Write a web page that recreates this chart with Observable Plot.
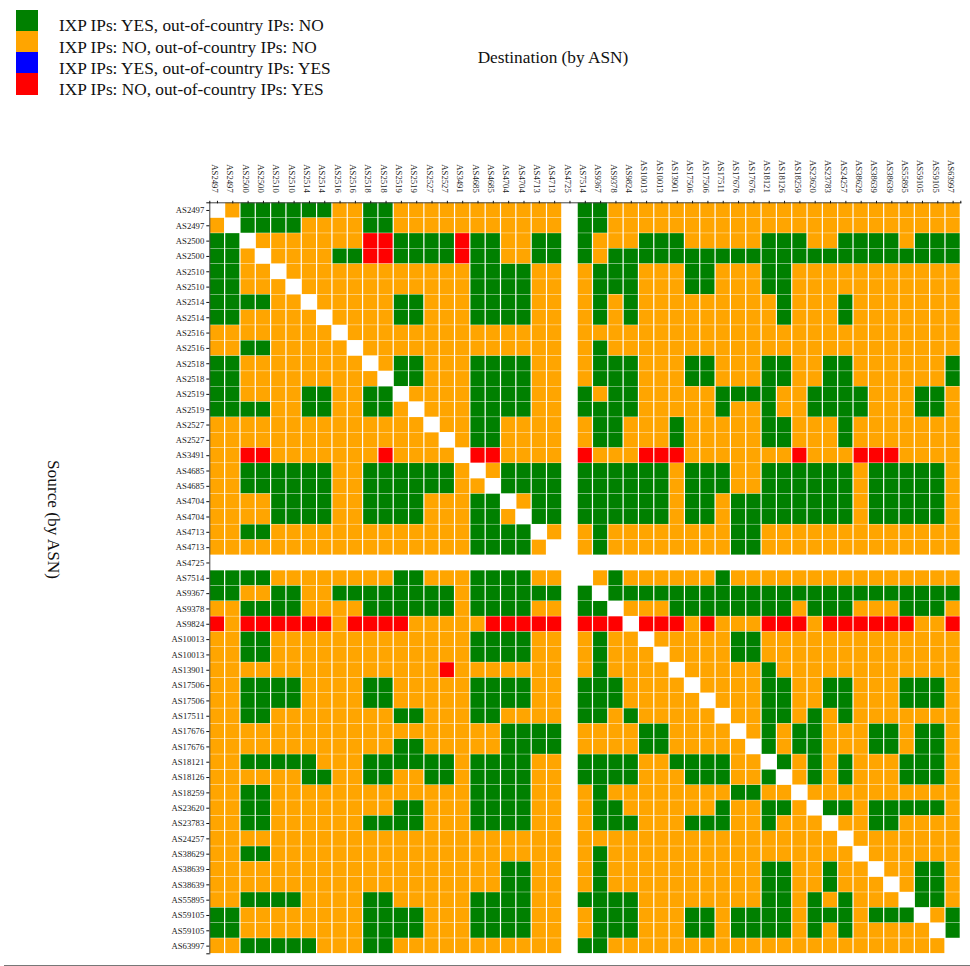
<!DOCTYPE html>
<html>
<head>
<meta charset="utf-8">
<script src="https://cdn.jsdelivr.net/npm/d3@7"></script>
<script src="https://cdn.jsdelivr.net/npm/@observablehq/plot@0.6"></script>
<style>
html,body{margin:0;padding:0;background:#fff;}
body{width:970px;height:966px;position:relative;overflow:hidden;font-family:"Liberation Serif",serif;color:#111;}
#legend{position:absolute;left:16px;top:9.5px;}
.row{position:relative;height:21.33px;width:400px;}
.sw{position:absolute;left:0;top:0;width:21.5px;height:21.5px;}
.lab{position:absolute;left:43px;top:5.7px;font-size:17.3px;line-height:21px;white-space:nowrap;}
#dest{position:absolute;left:453px;width:200px;text-align:center;top:47px;font-size:17.3px;line-height:21px;}
#src{position:absolute;left:43px;top:460px;font-size:17.3px;line-height:21px;writing-mode:vertical-rl;white-space:nowrap;}
#plot{position:absolute;left:0;top:130px;}
#rule{position:absolute;left:4px;top:965px;width:966px;height:1px;background:#777;}
</style>
</head>
<body>
<div id="legend"></div>
<div id="dest">Destination (by ASN)</div>
<div id="src">Source (by ASN)</div>
<div id="plot"></div>
<div id="rule"></div>
<script>
const asns = ["AS2497","AS2497","AS2500","AS2500","AS2510","AS2510","AS2514","AS2514","AS2516","AS2516","AS2518","AS2518","AS2519","AS2519","AS2527","AS2527","AS3491","AS4685","AS4685","AS4704","AS4704","AS4713","AS4713","AS4725","AS7514","AS9367","AS9378","AS9824","AS10013","AS10013","AS13901","AS17506","AS17506","AS17511","AS17676","AS17676","AS18121","AS18126","AS18259","AS23620","AS23783","AS24257","AS38629","AS38639","AS38639","AS55895","AS59105","AS59105","AS63997"];
const legendLabels = ["IXP IPs: YES, out-of-country IPs: NO","IXP IPs: NO, out-of-country IPs: NO","IXP IPs: YES, out-of-country IPs: YES","IXP IPs: NO, out-of-country IPs: YES"];
const legendColors = ["green","orange","blue","red"];
const codes = ["G","O","B","R"];
// One string per source row; G/O/B/R as in the legend, "." = no cell.
const matrix = [
".OGGGGGGOOGGOOOOOOOOOOO.GGOOOOOOOOOOOOOOOOOOOOOOO",
"O.GGGGOOOOGGOOOOOOOOOOO.GGOOOOOOOOOOOOOOOOOOOOOOO",
"GG.OOOOOOORRGGGGRGGOOGG.GOOOGGGOOOOOGGGOOGGGGOGGG",
"GGO.OOOOGGRRGGGGRGGOOGG.GOGGGGGGGGGGGGGGGGGGGGGGG",
"GGOO.OOOOOOOOOOOOGGGGOO.OGGGOOOGGOOOGGOOOOOOOOOOO",
"GGOOO.OOOOOOOOOOOGGGGOO.OGGGOOOGGOOOGGOOOOOOOOOOO",
"GGGGOO.OOOOOGGOOOGGGGOO.OGOGOOOOOOOOOGOOOGOOOOOOO",
"GGOOOOO.OOOOGGOOOGGGGOO.OGOGOOOOOOOOOGOOOGOOOOOOO",
"OOOOOOOO.OOOOOOOOOOOOOO.OOOOOOOOOOOOOOOOOOOOOOOOO",
"OOGGOOOOO.OOOOOOOOOOOOO.OGOOOOOOOOOOOOOOOOOOOOOOO",
"GGOOOOOOOO.OGGOOOGGGGOO.OGGGOOOGGOOOGGOOGGOOOOOOG",
"GGOOOOOOOOO.GGOOOGGGGOO.OGGGOOOGGOOOGGOOGGOOOOOOG",
"GGOOOOGGOOGG.OOOOGGGGOO.GOGGOOOOOGGGGOOGGGGOOOGGO",
"GGGGOOGGOOGGO.OOOGGGGOO.GGGGOOOOOGOOGOOGGGGOOOGGO",
"OOOOOOOOOOOOOO.OOGGOOOO.OGGOOOGOOOOOGGOOOGOOOOOOO",
"OOOOOOOOOOOOOOO.OGGOOOO.OGGOOOGOOOOOGGOOOGOOOOOOO",
"OORROOOOOOOROOOO.RROOOO.ROOORRROOOOOOOROOORRROOOO",
"OOGGGGGGOOGGGGGGO.OGGGG.GGGGGGOGGGOOGGGGGGOGGGGGO",
"OOGGGGGGOOGGGGGGOO.GGGG.GGGGGGOGGGOOGGGGGGOGGGGGO",
"OOOOGGGGOOGGGGOOOGG.OGG.GGGGGGOGGOGGGGGGGGOGGGGGO",
"OOOOGGGGOOGGGGOOOGGO.GG.GGGGGGOGGOGGGGGGGGOGGGGGO",
"OOGGOOOOOOOOOOOOOGGGG.O.OGOOOOOOOOGGOOOOOOOOOOOOO",
"OOOOOOOOOOOOOOOOOGGGGO..OGOOOOOOOOGGOOOOOOOOOOOOO",
".................................................",
"GGGGOOOOOOOOGGOOOGGGGOO..OGOOOOOOGOOOOOOOOOOOOOOO",
"GGOOGGOOGGGGGGGGOGGGGGG.G.GGGGGGGGGGGGGGGGGGGGGGG",
"OOGGGGOOOOGGGGGGOGGGGOO.GG.OOOGGGGGGGGOGGGOOOGGGO",
"RORRRRRRORRRROOOOORRRRR.RRR.RRROROOORRRORRRRRROOR",
"OOGGOOOOOOOOOOOOOGGGGOO.OGOO.OOOOOGGOOOOOOOOOOOOO",
"OOGGOOOOOOOOOOOOOGGGGOO.OGOOO.OOOOGGOOOOOOOOOOOOO",
"OOOOOOOOOOOOOOOROOOOOOO.OGOOOO.OOOOOGOOOOOOOOOOOO",
"OOGGGGOOOOGGOOOOOGGGGOO.GGGOOOO.OOOOGGOOGGOOOGGGO",
"OOGGGGOOOOGGOOOOOGGGGOO.GGGOOOOO.OOOGGOOGGOOOGGGO",
"OOGGOOOOOOOOGGOOOGGOOOO.GGOGOOOOO.OOGGOGOGOOOOOOO",
"OOOOOOOOOOOOOOOOOOOGGGG.OOOOGGOOOO.OGOGGOOOGGOGGO",
"OOOOOOOOOOOOGGOOOOOGGGG.OOOOGGOOOOO.GOGGOOOGGOGGO",
"OOGGGGGOOOGGGGGGOGGGGOO.GGGGOOGGGGOO.GOGOGOOOGGGO",
"OOOOOOGGOOGGOOGGOGGGGOO.GGGGOOOGGGOOG.OGOGOOOGGGO",
"OOGGOOOOOOOOOOOOOGGGGOO.OGOOOOOOOOGGOO.OOOOOOOOOO",
"OOGGOOOOOOOOGGOOOGGGGOO.OGGOOOOOOGOOGGO.GGOGGGGGO",
"OOGGOOOOOOGGGGOOOGGGGOO.OGGGOOOGGGOOGOOO.OOGGOOOO",
"OOOOOOOOOOOOOOOOOOOOOOO.OOOOOOOOOOOOOOOOO.OOOOOOO",
"OOGGOOOOOOOOOOOOOOOOOOO.OGOOOOOOOOOOOOOOOO.OOOOOO",
"OOOOOOOOOOOOOOOOOOOGGOO.OGOOOOOOOOOOGGOOGOO.OOGGO",
"OOOOOOOOOOOOOOOOOOOGGOO.OGOOOOOOOOOOGGOOGOOO.OGGO",
"OOGGGGOOOOGGOOOOOGGGGOO.GGGGOOOOOOOOGGOGOGOOO.GGO",
"GGOOOOOOOOGGGGOOOGGGGOO.OGGGOOOGGOGGGGOGGGOGGG.OG",
"GGOOOOOOOOGGGGOOOGGGGOO.OGGGOOOGGOGGGGOGOGOOOOO.G",
"OOGGGGGOOOGGOOOOOOOOOOO.GGOOOOOOOOOOOOOOOOOOOOOO."
];

const legend = document.getElementById("legend");
legendLabels.forEach((t,i)=>{
  const r=document.createElement("div");r.className="row";
  r.innerHTML=`<div class="sw" style="background:${legendColors[i]}"></div><div class="lab">${t}</div>`;
  legend.appendChild(r);
});

const cells=[];
matrix.forEach((s,r)=>{
  if(s.length!==49) throw new Error("row "+r+" len "+s.length);
  [...s].forEach((c,k)=>{ if(c!==".") cells.push({src:r,dst:k,code:c}); });
});

const idx=d3.range(asns.length);
const half=751/49/2;
const chart=Plot.plot({
  width:970,height:836,
  marginLeft:209.3,marginRight:9.7,marginTop:72.3,marginBottom:12.7,
  style:{fontFamily:"Liberation Serif, serif",fontSize:"8.7px",color:"#222",background:"transparent"},
  x:{type:"band",domain:idx,padding:0,round:false,axis:null},
  y:{type:"band",domain:idx,padding:0,round:false,axis:null},
  color:{type:"ordinal",domain:codes,range:legendColors},
  marks:[
    Plot.cell(cells,{x:"dst",y:"src",fill:"code",insetLeft:0.6,insetRight:0.6,insetTop:0.2,insetBottom:0.2}),
    Plot.frame({anchor:"top",stroke:"#444"}),
    Plot.frame({anchor:"left",stroke:"#444"}),
    Plot.axisX(idx,{anchor:"top",tickSize:2.5,fill:"none",label:null,stroke:"#111"}),
    Plot.axisX([0],{anchor:"top",tickSize:2.5,fill:"none",label:null,stroke:"#111",dx:-half}),
    Plot.axisX([48],{anchor:"top",tickSize:2.5,fill:"none",label:null,stroke:"#111",dx:half}),
    Plot.axisX(idx,{anchor:"top",tickRotate:90,tickSize:0,tickPadding:10,dx:-2.5,tickFormat:i=>asns[i],label:null}),
    Plot.axisY(idx,{anchor:"left",tickSize:3,tickPadding:2.5,tickFormat:i=>asns[i],label:null,stroke:"#111"}),
    Plot.axisY([0],{anchor:"left",tickSize:3,fill:"none",label:null,stroke:"#111",dy:-half}),
    Plot.axisY([48],{anchor:"left",tickSize:3,fill:"none",label:null,stroke:"#111",dy:half})
  ]
});
document.getElementById("plot").appendChild(chart);
</script>
</body>
</html>
